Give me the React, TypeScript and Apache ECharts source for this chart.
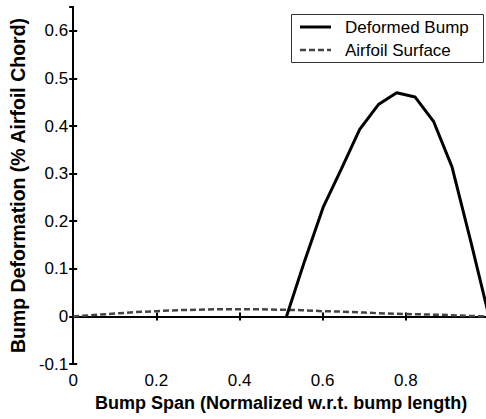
import React, { useEffect, useRef } from "react";
import * as echarts from "echarts";

const bumpX = [0.512, 0.556, 0.601, 0.645, 0.689, 0.734, 0.778, 0.822, 0.867, 0.911, 0.956, 1.0];
const bumpY = [-0.003, 0.115, 0.229, 0.31, 0.393, 0.445, 0.47, 0.461, 0.409, 0.314, 0.158, 0.0];

const airfoilX = [0, 0.05, 0.1, 0.15, 0.2, 0.25, 0.3, 0.35, 0.4, 0.45, 0.5, 0.55, 0.6, 0.65, 0.7, 0.75, 0.8, 0.85, 0.9, 0.95, 1.0];
const airfoilY = [0, 0.003, 0.006, 0.009, 0.011, 0.013, 0.014, 0.015, 0.015, 0.015, 0.014, 0.013, 0.011, 0.01, 0.008, 0.006, 0.005, 0.004, 0.003, 0.001, 0];

const seriesNames = ["Deformed Bump", "Airfoil Surface"];
const xTitle = "Bump Span (Normalized w.r.t. bump length)";
const yTitle = "Bump Deformation (% Airfoil Chord)";

const FONT = "Liberation Sans";
const DASH = [6, 3];

export default function App() {
  const ref = useRef<HTMLDivElement>(null);
  useEffect(() => {
    if (!ref.current) return;
    const chart = echarts.init(ref.current, null, { renderer: "svg" });
    const axisLine = { show: true, lineStyle: { color: "#000", width: 2 } };
    const tick = { show: true, inside: true, length: 4, lineStyle: { color: "#000", width: 2 } };
    const label = { color: "#000", fontFamily: FONT, fontSize: 17 };
    chart.setOption({
      animation: false,
      backgroundColor: "#fff",
      grid: { left: 67, top: 7, right: 6, bottom: 55, containLabel: false },
      graphic: [
        {
          type: "group",
          z: 100,
          children: [
            {
              type: "rect",
              shape: { x: 291.5, y: 14.5, width: 192, height: 48 },
              style: { fill: "#fff", stroke: "#333", lineWidth: 1 },
            },
            {
              type: "line",
              shape: { x1: 300, y1: 27, x2: 331, y2: 27 },
              style: { stroke: "#000", lineWidth: 3 },
            },
            {
              type: "line",
              shape: { x1: 300, y1: 50, x2: 331, y2: 50 },
              style: { stroke: "#444", lineWidth: 2.5, lineDash: DASH },
            },
            {
              type: "text",
              x: 345,
              y: 27,
              style: { text: seriesNames[0], fill: "#000", font: `17px "${FONT}"`, verticalAlign: "middle", align: "left" },
            },
            {
              type: "text",
              x: 345,
              y: 50,
              style: { text: seriesNames[1], fill: "#000", font: `17px "${FONT}"`, verticalAlign: "middle", align: "left" },
            },
          ],
        },
      ],
      xAxis: [
        {
          type: "value",
          min: 0,
          max: 1,
          interval: 0.2,
          position: "bottom",
          axisLine,
          axisTick: tick,
          splitLine: { show: false },
          axisLabel: { ...label, margin: 8, showMaxLabel: false },
          name: xTitle,
          nameLocation: "middle",
          nameGap: 25,
          nameTextStyle: { color: "#000", fontFamily: FONT, fontSize: 18, fontWeight: "bold", verticalAlign: "top" },
        },
        {
          type: "value",
          min: 0,
          max: 1,
          interval: 0.2,
          position: "top",
          axisLine,
          axisTick: tick,
          splitLine: { show: false },
          axisLabel: { show: false },
        },
      ],
      yAxis: [
        {
          type: "value",
          min: -0.1,
          max: 0.65,
          interval: 0.1,
          position: "left",
          axisLine,
          axisTick: tick,
          splitLine: { show: false },
          axisLabel: { ...label, margin: 5, showMaxLabel: false },
          name: yTitle,
          nameLocation: "middle",
          nameRotate: 90,
          nameGap: 33,
          nameTextStyle: { color: "#000", fontFamily: FONT, fontSize: 19.5, fontWeight: "bold" },
        },
        {
          type: "value",
          min: -0.1,
          max: 0.65,
          interval: 0.1,
          position: "right",
          axisLine,
          axisTick: tick,
          splitLine: { show: false },
          axisLabel: { show: false },
        },
      ],
      series: [
        {
          name: seriesNames[0],
          type: "line",
          symbol: "none",
          lineStyle: { color: "#000", width: 3 },
          itemStyle: { color: "#000" },
          data: bumpX.map((x, i) => [x, bumpY[i]]),
          z: 3,
        },
        {
          name: seriesNames[1],
          type: "line",
          symbol: "none",
          lineStyle: { color: "#444", width: 2.5, type: DASH },
          itemStyle: { color: "#444" },
          data: airfoilX.map((x, i) => [x, airfoilY[i]]),
          z: 2,
        },
      ],
    });
    return () => chart.dispose();
  }, []);
  return (
    <div style={{ position: "fixed", left: 0, top: 0, width: 486, height: 419, overflow: "hidden", background: "#fff" }}>
      <div ref={ref} style={{ width: 495, height: 419 }} />
    </div>
  );
}
